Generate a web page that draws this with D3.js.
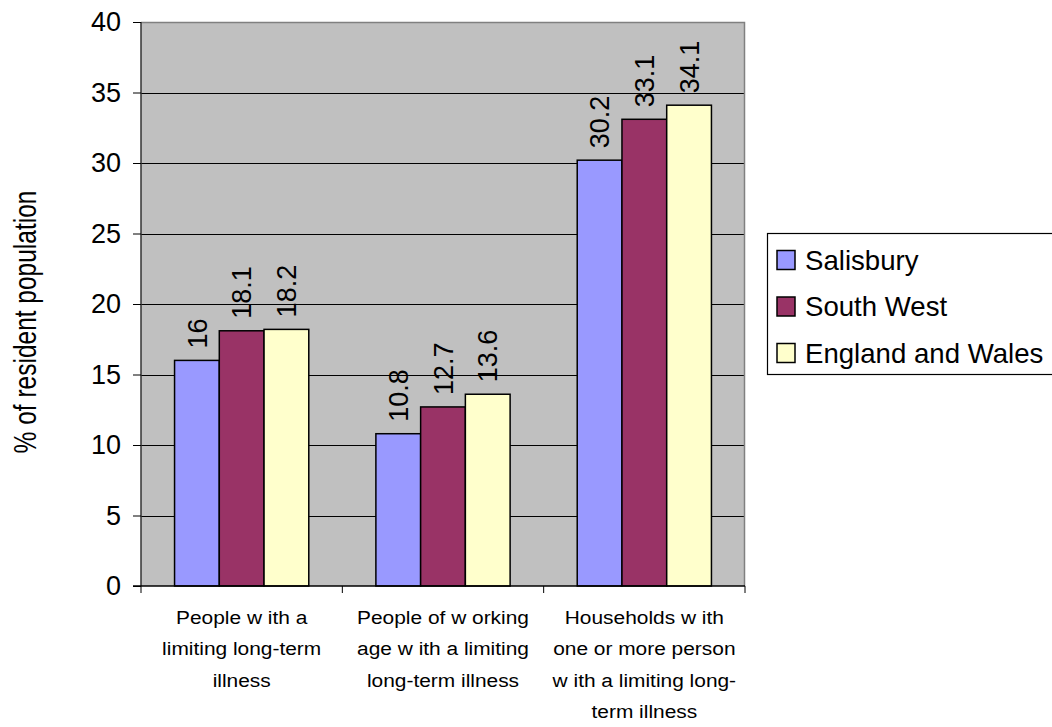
<!DOCTYPE html>
<html>
<head>
<meta charset="utf-8">
<script src="https://cdn.jsdelivr.net/npm/d3@7"></script>
<style>
  html, body { margin: 0; padding: 0; background: #fff; }
  svg { display: block; font-family: "Liberation Sans", Arial, sans-serif; }
</style>
</head>
<body>
<svg id="chart" width="1052" height="727"></svg>
<script>
// Data
const categories = [
  ["People w ith a", "limiting long-term", "illness"],
  ["People of w orking", "age w ith a limiting", "long-term illness"],
  ["Households w ith", "one or more person", "w ith a limiting long-", "term illness"]
];
const seriesNames = ["Salisbury", "South West", "England and Wales"];
const salisbury = [16, 10.8, 30.2];
const southWest = [18.1, 12.7, 33.1];
const englandWales = [18.2, 13.6, 34.1];
const yTicks = [0, 5, 10, 15, 20, 25, 30, 35, 40];
const colors = ["#9999FF", "#993366", "#FFFFCC"];

const seriesValues = [salisbury, southWest, englandWales];

const svg = d3.select("#chart");
const plot = { left: 141, right: 745, top: 22, bottom: 586 };

const y = d3.scaleLinear().domain([0, 40]).range([plot.bottom, plot.top]);
const x0 = d3.scaleBand()
  .domain(d3.range(categories.length))
  .range([plot.left, plot.right])
  .paddingInner(0).paddingOuter(0);
// gap of 1.5 bar widths per category => 3 bars occupy 3/4.5 of the band
const x1 = d3.scaleBand()
  .domain(d3.range(seriesNames.length))
  .range([0, x0.bandwidth()])
  .paddingInner(0)
  .paddingOuter(0.75);

// Plot background
svg.append("rect")
  .attr("x", plot.left).attr("y", plot.top)
  .attr("width", plot.right - plot.left).attr("height", plot.bottom - plot.top)
  .attr("fill", "#C0C0C0");

// Gridlines
svg.append("g")
  .selectAll("line")
  .data(yTicks.filter(d => d > 0 && d < 40))
  .join("line")
  .attr("x1", plot.left).attr("x2", plot.right)
  .attr("y1", d => Math.round(y(d)) + 0.5).attr("y2", d => Math.round(y(d)) + 0.5)
  .attr("stroke", "#000").attr("stroke-width", 1);

// Plot border (top and right, grey)
svg.append("path")
  .attr("d", `M${plot.left},${plot.top + 0.5}H${plot.right - 0.5}V${plot.bottom}`)
  .attr("fill", "none").attr("stroke", "#808080").attr("stroke-width", 1.5);

// Bars and value labels, one group per category
const cells = i => seriesValues.map((vals, s) => ({ s, v: vals[i] }));
const groups = svg.append("g").selectAll("g")
  .data(categories.map((c, i) => i))
  .join("g")
  .attr("transform", i => `translate(${x0(i)},0)`);

groups.selectAll("rect")
  .data(cells)
  .join("rect")
  .attr("x", d => x1(d.s))
  .attr("y", d => y(d.v))
  .attr("width", x1.bandwidth())
  .attr("height", d => y(0) - y(d.v))
  .attr("fill", d => colors[d.s])
  .attr("stroke", "#000")
  .attr("stroke-width", 1.5);

groups.selectAll("text.value")
  .data(cells)
  .join("text")
  .attr("class", "value")
  .attr("transform", d => `translate(${x1(d.s) + x1.bandwidth() / 2},${y(d.v) - 12}) rotate(-90)`)
  .attr("dy", "0.36em")
  .attr("font-size", 27)
  .attr("fill", "#000")
  .text(d => String(d.v));

// Y axis
const yAxis = d3.axisLeft(y).tickValues(yTicks).tickSize(8).tickPadding(12);
const gy = svg.append("g")
  .attr("transform", `translate(${plot.left},0)`)
  .call(yAxis);
gy.select(".domain").attr("stroke", "#333").attr("stroke-width", 1.5)
  .attr("d", `M0,${plot.top}V${plot.bottom}`);
gy.selectAll(".tick line").attr("stroke", "#000");
gy.selectAll(".tick text")
  .attr("font-size", 27)
  .attr("font-family", "'Liberation Sans', Arial, sans-serif")
  .attr("fill", "#000");

// X axis line and category ticks
svg.append("line")
  .attr("x1", plot.left - 8).attr("x2", plot.right)
  .attr("y1", plot.bottom).attr("y2", plot.bottom)
  .attr("stroke", "#000").attr("stroke-width", 1.5);
svg.append("g").selectAll("line")
  .data(d3.range(categories.length + 1))
  .join("line")
  .attr("x1", i => i < categories.length ? x0(i) : plot.right)
  .attr("x2", i => i < categories.length ? x0(i) : plot.right)
  .attr("y1", plot.bottom).attr("y2", plot.bottom + 7)
  .attr("stroke", "#000").attr("stroke-width", 1);

// Category labels
const catText = svg.append("g").selectAll("text")
  .data(categories)
  .join("text")
  .attr("text-anchor", "middle")
  .attr("font-size", 19)
  .attr("fill", "#000")
  .attr("transform", (d, i) => `translate(${x0(i) + x0.bandwidth() / 2},624) scale(1.1,1)`);
catText.selectAll("tspan")
  .data(d => d)
  .join("tspan")
  .attr("x", 0)
  .attr("y", (d, j) => j * 31.5)
  .text(d => d);

// Y axis title
svg.append("text")
  .attr("transform", "translate(36,322) rotate(-90) scale(1,1.3)")
  .attr("text-anchor", "middle")
  .attr("font-size", 24.5)
  .attr("fill", "#000")
  .text("% of resident population");

// Legend
const legend = svg.append("g");
legend.append("rect")
  .attr("x", 767.5).attr("y", 233.5)
  .attr("width", 300).attr("height", 141)
  .attr("fill", "#fff").attr("stroke", "#000").attr("stroke-width", 1.2);
const items = legend.selectAll("g.item")
  .data(seriesNames)
  .join("g")
  .attr("class", "item")
  .attr("transform", (d, i) => `translate(777,${260 + i * 46.5})`);
items.append("rect")
  .attr("x", 0).attr("y", -9.5)
  .attr("width", 18).attr("height", 19)
  .attr("fill", (d, i) => colors[i])
  .attr("stroke", "#000").attr("stroke-width", 1.5);
items.append("text")
  .attr("x", 28).attr("y", 0)
  .attr("dy", "0.36em")
  .attr("font-size", 27.6)
  .attr("fill", "#000")
  .text(d => d);
</script>
</body>
</html>
